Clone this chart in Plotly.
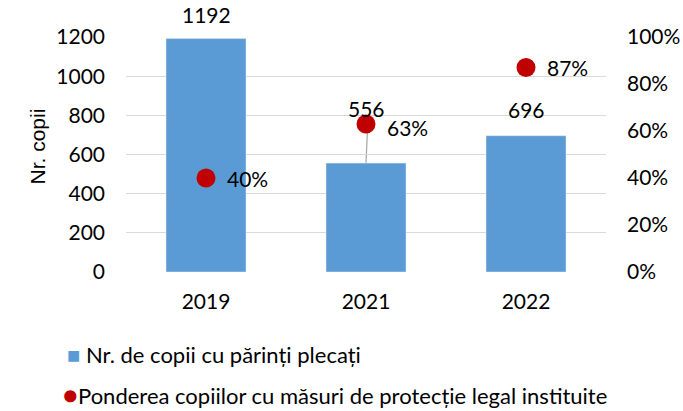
import plotly.graph_objects as go

years = ["2019", "2021", "2022"]
children = [1192, 556, 696]
share = [0.40, 0.63, 0.87]
bar_name = "Nr. de copii cu părinți plecați"
dot_name = "Ponderea copiilor cu măsuri de protecție legal instituite"
y_title = "Nr. copii"

BLUE = "#5B9BD5"
RED = "#C00000"
FONT = "Lato"
FS = 21

pos = list(range(len(years)))

fig = go.Figure()
fig.add_trace(go.Bar(x=pos, y=children, name=bar_name, marker_color=BLUE,
                     width=0.5, yaxis="y", showlegend=False))
fig.add_trace(go.Scatter(x=pos, y=share, name=dot_name, mode="markers",
                         marker=dict(color=RED, size=19), yaxis="y2", showlegend=False))

# bar value labels
shifts = [24, 55, 26]
for p, v, s in zip(pos, children, shifts):
    fig.add_annotation(x=p, y=v, xref="x", yref="y", text=str(v), showarrow=False,
                       yshift=s, font=dict(size=FS, color="#000"))
# leader line for 2021 label
fig.add_shape(type="line", xref="x", yref="y", x0=pos[1], x1=pos[1] + 0.01, y0=children[1], y1=740,
              line=dict(color="#A6A6A6", width=1.2), layer="below")
# percentage labels
pshift = [0, -4, 0]
for p, v, s in zip(pos, share, pshift):
    fig.add_annotation(x=p, y=v, xref="x", yref="y2", text=f"{round(v*100)}%", showarrow=False,
                       xanchor="left", xshift=19, yshift=s, font=dict(size=FS, color="#000"))

# y axis title
fig.add_annotation(xref="paper", yref="paper", x=-0.185, y=0.535, text=y_title, textangle=-90,
                   showarrow=False, xanchor="center", yanchor="middle",
                   font=dict(size=21, family="Liberation Sans", color="#000"))

# legend drawn as text
fig.add_annotation(xref="paper", yref="paper", x=-0.127, y=-0.35, xanchor="left", yanchor="middle",
                   text=f'<span style="color:{BLUE};font-size:22px">■</span> {bar_name}',
                   showarrow=False, font=dict(size=22, color="#000"))
fig.add_annotation(xref="paper", yref="paper", x=-0.136, y=-0.52, xanchor="left", yanchor="middle",
                   text=f'<span style="color:{RED};font-size:25px">●</span>{dot_name}',
                   showarrow=False, font=dict(size=22, color="#000"))

fig.update_layout(
    width=683, height=411,
    margin=dict(l=126, r=77, t=37, b=139, autoexpand=False),
    plot_bgcolor="white", paper_bgcolor="white",
    font=dict(family=FONT, size=FS, color="#000"),
    xaxis=dict(range=[-0.5, 2.5], tickvals=pos, ticktext=years, showgrid=False, showline=False,
               zeroline=False, ticks="", tickfont=dict(size=FS), automargin=False,
               ticklabelstandoff=15),
    yaxis=dict(range=[0, 1200], dtick=200, showgrid=True, gridcolor="#D9D9D9", gridwidth=1.3,
               zeroline=False, showline=False, ticks="", tickfont=dict(size=FS), automargin=False,
               ticklabelstandoff=20),
    yaxis2=dict(range=[0, 1], dtick=0.2, tickformat=".0%", overlaying="y", side="right",
                showgrid=False, zeroline=False, showline=False, ticks="", tickfont=dict(size=FS),
                automargin=False, ticklabelstandoff=20),
)

fig.write_html("out.html", config={"displayModeBar": False},
               post_script="document.body.style.margin='0';")
